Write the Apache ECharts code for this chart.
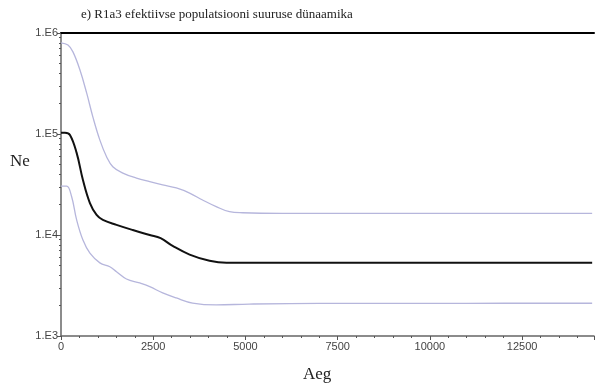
<!DOCTYPE html>
<html>
<head>
<meta charset="utf-8">
<script src="https://cdn.jsdelivr.net/npm/echarts@6/dist/echarts.min.js"></script>
<style>html,body{margin:0;padding:0;background:#fff}#c{width:597px;height:389px}</style>
</head>
<body>
<div id="c"></div>
<script>
const titleText = 'e) R1a3 efektiivse populatsiooni suuruse dünaamika';
const xName = 'Aeg';
const yName = 'Ne';
const xTickValues = [0, 2500, 5000, 7500, 10000, 12500];
const yTickLabels = ['1.E3', '1.E4', '1.E5', '1.E6'];
const yTickValues = [1000, 10000, 100000, 1000000];

const upperAge = [0, 189, 324, 514, 695, 865, 1054, 1235, 1405, 1676, 2046, 2406, 2757, 3127, 3487, 3838, 4208, 4568, 4919, 6000, 8000, 10000, 12000, 14400];
const upperNe  = [800000, 760000, 650000, 430000, 255000, 147000, 87000, 59600, 47400, 41000, 36600, 33700, 31300, 29200, 26000, 22200, 19100, 17000, 16600, 16400, 16400, 16400, 16400, 16400];

const medianAge = [0, 108, 243, 424, 595, 784, 965, 1135, 1505, 1946, 2406, 2700, 3027, 3487, 4027, 4487, 5000, 7000, 10000, 12000, 14400];
const medianNe  = [103000, 103000, 98000, 65000, 35000, 20700, 15800, 14100, 12600, 11200, 10000, 9300, 7800, 6400, 5550, 5300, 5300, 5300, 5300, 5300, 5300];

const lowerAge = [0, 154, 289, 424, 595, 784, 1054, 1324, 1505, 1775, 2135, 2406, 2757, 3127, 3568, 4208, 5100, 7000, 10000, 12000, 14400];
const lowerNe  = [30500, 30500, 23900, 14100, 8900, 6600, 5300, 4850, 4330, 3670, 3350, 3080, 2670, 2380, 2120, 2030, 2070, 2100, 2100, 2110, 2110];

const minorY = [];
for (let d = 1000; d < 1000000; d *= 10) for (let k = 2; k <= 9; k++) minorY.push(d * k);

const pairs = (xs, ys) => xs.map((x, i) => [x, ys[i]]);
const chart = echarts.init(document.getElementById('c'));
const bandColor = '#b6b6dc';
chart.setOption({
  animation: false,
  grid: { left: 61, top: 33, right: 1, bottom: 53 },
  title: {
    text: titleText, left: 76, top: 3,
    textStyle: { fontFamily: 'Liberation Serif', fontSize: 13, fontWeight: 'normal', color: '#222' }
  },
  graphic: [
    { type: 'text', left: 10, top: 153, style: { text: yName, font: '17px "Liberation Serif"', fill: '#222' } },
    { type: 'text', left: 303, top: 366, style: { text: xName, font: '17px "Liberation Serif"', fill: '#222' } }
  ],
  xAxis: [{
    type: 'value', min: 0, max: 14450, interval: 2500,
    axisLine: { lineStyle: { color: '#666', width: 1.5 } },
    axisTick: { show: true, length: 4, lineStyle: { color: '#555' } },
    minorTick: { show: true, splitNumber: 5, length: 2, lineStyle: { color: '#555' } },
    splitLine: { show: false },
    axisLabel: {
      color: '#444', fontFamily: 'Liberation Sans', fontSize: 11, margin: 5,
      formatter: v => (xTickValues.indexOf(v) >= 0 ? String(v) : '')
    }
  }, {
    type: 'value', position: 'top', min: 0, max: 14450,
    axisLine: { show: true, lineStyle: { color: '#000', width: 2 } },
    axisTick: { show: false }, axisLabel: { show: false }, splitLine: { show: false }
  }],
  yAxis: [{
    type: 'log', logBase: 10, min: 1000, max: 1000000,
    axisLine: { show: true, lineStyle: { color: '#666', width: 1.5 } },
    axisTick: { show: true, length: 4, lineStyle: { color: '#555' } },
    splitLine: { show: false },
    axisLabel: {
      color: '#444', fontFamily: 'Liberation Sans', fontSize: 11, margin: 3,
      formatter: v => { const i = yTickValues.indexOf(Math.round(v)); return i >= 0 ? yTickLabels[i] : ''; }
    }
  }, {
    type: 'log', logBase: 10, min: 1000, max: 1000000, position: 'left',
    axisLine: { show: false },
    axisTick: { show: true, length: 2, customValues: minorY, lineStyle: { color: '#555' } },
    axisLabel: { show: false }, splitLine: { show: false }
  }],
  series: [
    { type: 'line', name: 'upper', data: pairs(upperAge, upperNe), smooth: 0.4, showSymbol: false, lineStyle: { color: bandColor, width: 1.3 } },
    { type: 'line', name: 'lower', data: pairs(lowerAge, lowerNe), smooth: 0.4, showSymbol: false, lineStyle: { color: bandColor, width: 1.3 } },
    { type: 'line', name: 'median', data: pairs(medianAge, medianNe), smooth: 0.4, showSymbol: false, lineStyle: { color: '#111', width: 2 } }
  ]
});
</script>
</body>
</html>
